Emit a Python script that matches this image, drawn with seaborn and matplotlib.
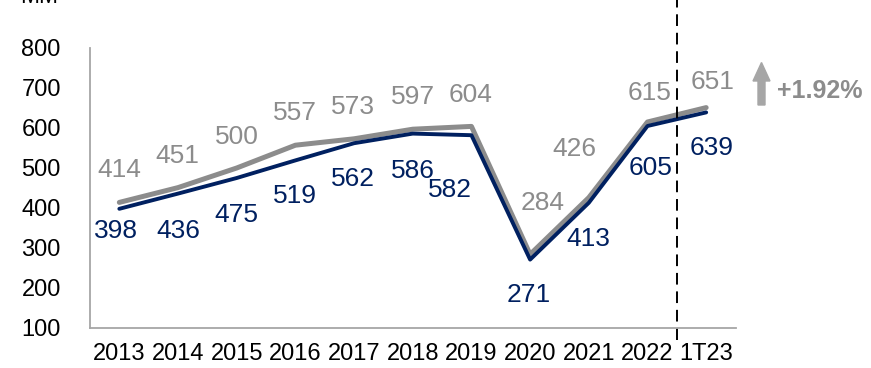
import pandas as pd
import matplotlib
matplotlib.use('Agg')
import matplotlib.pyplot as plt
import seaborn as sns
from matplotlib.patches import FancyArrow
from matplotlib.transforms import IdentityTransform

periods = ['2013', '2014', '2015', '2016', '2017', '2018', '2019', '2020', '2021', '2022', '1T23']
gray_values = [414, 451, 500, 557, 573, 597, 604, 284, 426, 615, 651]
navy_values = [398, 436, 475, 519, 562, 586, 582, 271, 413, 605, 639]
y_ticks = [100, 200, 300, 400, 500, 600, 700, 800]
change_label = '+1.92%'
unit_label = 'MM'

GRAY = '#8c8c8c'
NAVY = '#002060'

# label offsets in pixels (dx, dy) relative to each point
gray_offsets = [(0, 32), (-1, 32), (0, 31), (0, 32), (-1, 32), (0, 32), (-1, 31),
                (13, 51), (-14, 49), (2, 29), (6, 26)]
navy_offsets = [(-3, -22), (0, -37), (0, -37), (0, -36), (-1, -36), (0, -37), (-21, -55),
                (-1, -35), (0, -36), (3, -42), (5, -36)]

sns.set_style('white')
plt.rcParams['font.family'] = ['Liberation Sans', 'DejaVu Sans']

df = pd.DataFrame({
    'x': list(range(len(periods))) * 2,
    'value': gray_values + navy_values,
    'series': ['gray'] * len(periods) + ['navy'] * len(periods),
})

fig = plt.figure(figsize=(8.71, 3.68), dpi=100)
ax = fig.add_axes([90 / 871, 40 / 368, 645.5 / 871, 280 / 368])

sns.lineplot(data=df, x='x', y='value', hue='series', hue_order=['gray', 'navy'],
             palette={'gray': GRAY, 'navy': NAVY}, linewidth=3.2, legend=False,
             sort=False, ax=ax)
lines = ax.get_lines()
lines[0].set_linewidth(3.6)
lines[1].set_linewidth(2.8)

ax.set_xlim(-0.5, 10.5)
ax.set_ylim(100, 800)
ax.set_xticks(range(len(periods)))
ax.set_xticklabels(periods)
ax.set_yticks(y_ticks)
ax.set_xlabel('')
ax.set_ylabel('')
ax.tick_params(axis='both', length=0, labelsize=17, colors='black')
ax.tick_params(axis='y', pad=21)
ax.tick_params(axis='x', pad=11)

for side in ['top', 'right']:
    ax.spines[side].set_visible(False)
for side in ['left', 'bottom']:
    ax.spines[side].set_color('#a6a6a6')
    ax.spines[side].set_linewidth(1.3)

for i, (g, n) in enumerate(zip(gray_values, navy_values)):
    ax.annotate(str(g), (i, g), xytext=gray_offsets[i], textcoords='offset pixels',
                ha='center', va='center', fontsize=19, color=GRAY)
    ax.annotate(str(n), (i, n), xytext=navy_offsets[i], textcoords='offset pixels',
                ha='center', va='center', fontsize=19, color=NAVY)

# dashed separator between 2022 and 1T23
ax.plot([9.5, 9.5], [70, 925], color='black', linewidth=1.4,
        linestyle=(0, (6, 3.5)), clip_on=False)

# up arrow with change
arrow = FancyArrow(761.5, 263, 0, 42.5, width=7, head_width=17, head_length=18.5,
                   length_includes_head=True, color='#a6a6a6', transform=IdentityTransform())
fig.add_artist(arrow)
fig.text(777 / 871, (368 - 90.7) / 368, change_label, ha='left', va='center',
         fontsize=18, fontweight='bold', color=GRAY)

fig.text(20 / 871, 1 - 3 / 368, unit_label, ha='left', va='baseline', fontsize=16.5, color='black')

fig.savefig('out.png', dpi=100)
